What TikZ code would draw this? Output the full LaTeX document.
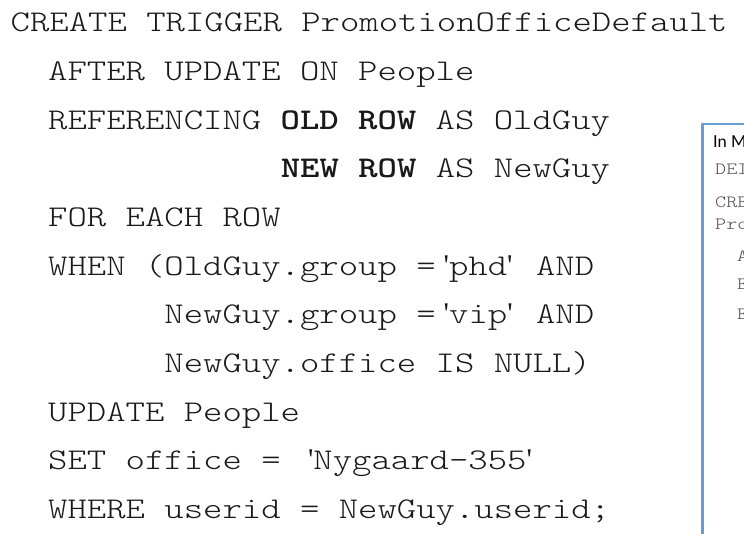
\documentclass[tikz,border=0pt]{standalone}
\usepackage{fontspec}
\newfontfamily\codefont{lmmonolt10-regular.otf}[FakeStretch=1.226, BoldFont=lmmonolt10-bold.otf, BoldFeatures={FakeStretch=1.226}]
\newfontfamily\qfont{Liberation Serif}
\newfontfamily\boxsans{Lato}
\definecolor{boxblue}{RGB}{100,158,214}
\definecolor{codeink}{RGB}{25,25,25}
\definecolor{boxink}{RGB}{80,80,80}
\newcommand\oq{\hspace{8pt}{\qfont'}}
\newcommand\cq{{\qfont'}\hspace{4pt}}
\tikzset{
  codeline/.style={anchor=base west, inner sep=0pt, text=codeink,
    font=\codefont\fontsize{30.1}{36}\selectfont},
  boxcode/.style={anchor=base west, inner sep=0pt, text=boxink,
    font=\codefont\fontsize{17.2}{20}\selectfont},
  boxhead/.style={anchor=base west, inner sep=0pt, text=black,
    font=\boxsans\fontsize{16.5}{18}\selectfont},
  panel/.style={draw=boxblue, line width=2.5pt}
}
\begin{document}
\begin{tikzpicture}[x=1pt,y=1pt]
\useasboundingbox (0,0) rectangle (744,534);
\clip (0,0) rectangle (744,534);
% main code block (baselines measured from top)
\node[codeline] (l1) at (10.5,{534-31.7}) {CREATE TRIGGER PromotionOfficeDefault};
\node[codeline] (l2) at (48,{534-80.4}) {AFTER UPDATE ON People};
\node[codeline] (l3) at (48,{534-129.1}) {REFERENCING \textbf{OLD ROW} AS OldGuy};
\node[codeline] (l4) at ({48+12*19.38},{534-177.8}) {\textbf{NEW ROW} AS NewGuy};
\node[codeline] (l5) at (48,{534-226.5}) {FOR EACH ROW};
\node[codeline] (l6) at (48,{534-275.2}) {WHEN (OldGuy.group =\oq phd\cq{} AND};
\node[codeline] (l7) at ({48+6*19.38},{534-323.9}) {NewGuy.group =\oq vip\cq{} AND};
\node[codeline] (l8) at ({48+6*19.38},{534-372.6}) {NewGuy.office IS NULL)};
\node[codeline] (l9) at (48,{534-421.3}) {UPDATE People};
\node[codeline] (l10) at (48,{534-470.0}) {SET office = \oq Nygaard-355\cq};
\node[codeline] (l11) at (48,{534-518.7}) {WHERE userid = NewGuy.userid;};
% side panel
\coordinate (pnw) at (702.5,{534-124});
\coordinate (pse) at (770,-20);
\draw[panel] (pnw) rectangle (pse);
\node[boxhead] (b0) at (713,{534-148}) {In M};
\node[boxcode] (b1) at (715,{534-175}) {DEI};
\node[boxcode] (b2) at (715,{534-208}) {CRE};
\node[boxcode] (b3) at (715,{534-230}) {Pro};
\node[boxcode] (b4) at (737,{534-262}) {A};
\node[boxcode] (b5) at (737,{534-290}) {E};
\node[boxcode] (b6) at (737,{534-320}) {E};
\end{tikzpicture}
\end{document}
